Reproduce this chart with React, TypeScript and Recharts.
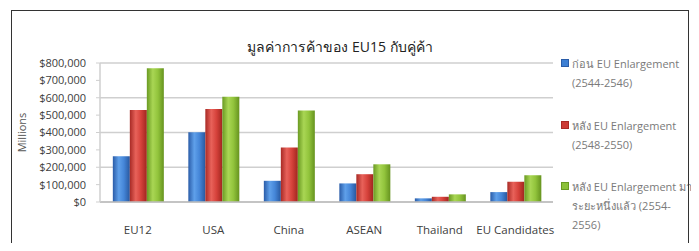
import { BarChart, Bar, XAxis, YAxis, CartesianGrid } from 'recharts'

const categories = ['EU12', 'USA', 'China', 'ASEAN', 'Thailand', 'EU Candidates']
const beforeValues = [263000, 402000, 122000, 107000, 21000, 57000]
const afterValues = [530000, 535000, 314000, 160000, 30000, 116000]
const laterValues = [770000, 606000, 526000, 217000, 44000, 154000]
const yTicks = [0, 100000, 200000, 300000, 400000, 500000, 600000, 700000, 800000]
const seriesLines = [
  ['ก่อน EU Enlargement', '(2544-2546)'],
  ['หลัง EU Enlargement', '(2548-2550)'],
  ['หลัง EU Enlargement มา', 'ระยะหนึ่งแล้ว (2554-', '2556)'],
]
const title = 'มูลค่าการค้าของ EU15 กับคู่ค้า'

const data = categories.map((name, i) => ({
  name,
  before: beforeValues[i],
  after: afterValues[i],
  later: laterValues[i],
}))

const FONT = "'Segoe UI', 'Open Sans', 'DejaVu Sans', sans-serif"

// edge / light / mid / edge colours for the glossy bar look
const palette = [
  { id: 'gBlue', swatch: '#3d7fd3', stops: ['#2a5ca8', '#5fa0ea', '#4586d8', '#28589f'] },
  { id: 'gRed', swatch: '#cc3b35', stops: ['#a82a25', '#e8625a', '#d6423b', '#a0261f'] },
  { id: 'gGreen', swatch: '#8cc13a', stops: ['#6a9a22', '#a9d654', '#92c43c', '#66931f'] },
]

const legendTops = [54, 116, 177]

const fmt = (v: number) => '$' + v.toLocaleString('en-US')

function LegendBox() {
  return (
    <div style={{ position: 'absolute', left: 561, top: 0, width: 130, height: 251, fontFamily: FONT }}>
      {seriesLines.map((lines, i) => (
        <div key={i} style={{ position: 'absolute', left: 0, top: legendTops[i] }}>
          <div
            style={{
              position: 'absolute',
              left: 0,
              top: 5,
              width: 8,
              height: 8,
              background: palette[i].swatch,
              border: '1px solid ' + palette[i].stops[0],
              boxSizing: 'border-box',
            }}
          />
          {lines.map((t, j) => (
            <div
              key={j}
              style={{
                position: 'absolute',
                left: 11,
                top: j * 19,
                whiteSpace: 'nowrap',
                fontSize: 11,
                lineHeight: '19px',
                color: '#7a7a7a',
              }}
            >
              {t}
            </div>
          ))}
        </div>
      ))}
    </div>
  )
}

export default function App() {
  return (
    <div style={{ position: 'relative', width: 699, height: 251, margin: -8, background: '#fff', overflow: 'hidden' }}>
      <div style={{ position: 'absolute', left: 0, top: 0 }}>
        <BarChart
          width={699}
          height={251}
          data={data}
          margin={{ top: 63, right: 146, left: 0, bottom: 19 }}
          barCategoryGap="17%"
          barGap={0}
        >
          <defs>
            {palette.map((p) => (
              <linearGradient key={p.id} id={p.id} x1="0" y1="0" x2="1" y2="0">
                <stop offset="0%" stopColor={p.stops[0]} />
                <stop offset="35%" stopColor={p.stops[1]} />
                <stop offset="65%" stopColor={p.stops[2]} />
                <stop offset="100%" stopColor={p.stops[3]} />
              </linearGradient>
            ))}
          </defs>
          <CartesianGrid vertical={false} stroke="#cfcfcf" strokeWidth={1.5} />
          <XAxis
            dataKey="name"
            height={30}
            interval={0}
            axisLine={{ stroke: '#bdbdbd', strokeWidth: 1.5 }}
            tickLine={false}
            tickMargin={18}
            tick={{ fill: '#404040', fontSize: 11.5, fontFamily: FONT }}
          />
          <YAxis
            width={100}
            domain={[0, 800000]}
            ticks={yTicks}
            tickFormatter={fmt}
            axisLine={{ stroke: '#cfcfcf', strokeWidth: 1.5 }}
            tickLine={{ stroke: '#cfcfcf' }}
            tickSize={4}
            tickMargin={10}
            tick={{ fill: '#404040', fontSize: 11, fontFamily: FONT }}
            label={{
              value: 'Millions',
              angle: -90,
              position: 'insideLeft',
              offset: 22,
              style: { fill: '#555', fontSize: 11, fontFamily: FONT, textAnchor: 'middle' },
            }}
          />
          <Bar dataKey="before" fill="url(#gBlue)" isAnimationActive={false} />
          <Bar dataKey="after" fill="url(#gRed)" isAnimationActive={false} />
          <Bar dataKey="later" fill="url(#gGreen)" isAnimationActive={false} />
        </BarChart>
      </div>
      <LegendBox />
      <div
        style={{
          position: 'absolute',
          left: 200,
          width: 280,
          top: 36,
          textAlign: 'center',
          fontFamily: FONT,
          fontSize: 14,
          color: '#222',
        }}
      >
        {title}
      </div>
      <div
        style={{
          position: 'absolute',
          left: 11,
          top: 10,
          width: 676,
          height: 260,
          border: '1.5px solid #333',
          pointerEvents: 'none',
        }}
      />
    </div>
  )
}
